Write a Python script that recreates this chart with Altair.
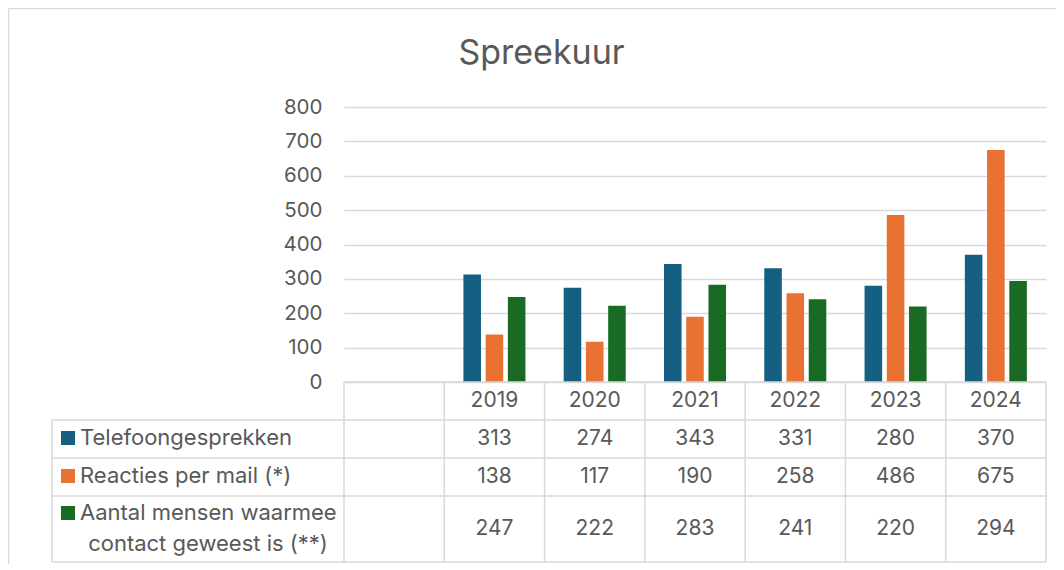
import altair as alt
import pandas as pd

# ---- data -----------------------------------------------------------------
years = ["2019", "2020", "2021", "2022", "2023", "2024"]
categories = [" "] + years  # first category column is empty in the source chart
series = ["Telefoongesprekken", "Reacties per mail (*)",
          "Aantal mensen waarmee contact geweest is (**)"]
series_label_lines = [["Telefoongesprekken"],
                      ["Reacties per mail (*)"],
                      ["Aantal mensen waarmee", "contact geweest is (**)"]]
telefoon = [313, 274, 343, 331, 280, 370]
mail = [138, 117, 190, 258, 486, 675]
contact = [247, 222, 283, 241, 220, 294]
y_ticks = [0, 100, 200, 300, 400, 500, 600, 700, 800]
title_text = "Spreekuur"

colors = ["#156082", "#E97132", "#196B24"]
TXT = "#595959"
GRID = "#d9d9d9"
FONT = "Inter"

values_by_series = [telefoon, mail, contact]
rows = []
for s, vals in zip(series, values_by_series):
    for y, v in zip(years, vals):
        rows.append({"year": y, "series": s, "value": v})
df = pd.DataFrame(rows)

# ---- layout constants (pixels, relative to plot area) ----------------------
W, H = 702, 275
table_lines_y = [H, 313, 351, 389, 455]
row_center_y = [332, 370, 422]
label_line_y = [[331], [369], [406, 437]]
header_y = 294
label_left = -292

xscale = alt.Scale(domain=categories, paddingInner=0, paddingOuter=0)
yscale = alt.Scale(domain=[0, 800])
cscale = alt.Scale(domain=series, range=colors)

bars = alt.Chart(df).mark_bar().encode(
    x=alt.X("year:N", scale=xscale, axis=None, sort=categories),
    xOffset=alt.XOffset("series:N", scale=alt.Scale(domain=series, paddingInner=0.21, paddingOuter=0.86)),
    y=alt.Y("value:Q", scale=yscale, title=None,
            axis=alt.Axis(values=y_ticks, domain=False, ticks=False, labelPadding=22,
                          gridColor=GRID, gridWidth=1.5, labelFontSize=20.5,
                          labelColor=TXT, labelFont=FONT)),
    color=alt.Color("series:N", scale=cscale, legend=None),
)

title = alt.Chart(pd.DataFrame({"t": [title_text]})).mark_text(
    fontSize=34, font=FONT, color=TXT, baseline="alphabetic", align="center"
).encode(text="t:N", x=alt.value(197.5), y=alt.value(-43))

cat_df = pd.DataFrame({"year": categories})
vrules = alt.Chart(cat_df).mark_rule(color=GRID, strokeWidth=1.5).encode(
    x=alt.X("year:N", scale=xscale, bandPosition=0, sort=categories),
    y=alt.value(H), y2=alt.value(455))
right_rule = alt.Chart(cat_df.head(1)).mark_rule(color=GRID, strokeWidth=1.5).encode(
    x=alt.value(W), y=alt.value(H), y2=alt.value(455))
left_rule = alt.Chart(cat_df.head(1)).mark_rule(color=GRID, strokeWidth=1.5).encode(
    x=alt.value(label_left), y=alt.value(313), y2=alt.value(455))
hrules = [alt.Chart(cat_df.head(1)).mark_rule(color=GRID, strokeWidth=1.5).encode(
    x=alt.value(0 if i == 0 else label_left), x2=alt.value(W), y=alt.value(yy))
    for i, yy in enumerate(table_lines_y)]
border_top = alt.Chart(cat_df.head(1)).mark_rule(color=GRID, strokeWidth=1.5).encode(
    x=alt.value(-335.5), x2=alt.value(W + 12), y=alt.value(-98.5))
border_left = alt.Chart(cat_df.head(1)).mark_rule(color=GRID, strokeWidth=1.5).encode(
    x=alt.value(-335.5), y=alt.value(-98.5), y2=alt.value(460))

header = alt.Chart(pd.DataFrame({"year": years})).mark_text(
    fontSize=21, font=FONT, color=TXT, baseline="middle").encode(
    x=alt.X("year:N", scale=xscale, sort=categories), y=alt.value(header_y), text="year:N")

layers = [bars, title, border_top, border_left, vrules, right_rule, left_rule] + hrules + [header]

for i, s in enumerate(series):
    sub = df[df.series == s]
    layers.append(alt.Chart(sub).mark_text(
        fontSize=21, font=FONT, color=TXT, baseline="middle").encode(
        x=alt.X("year:N", scale=xscale, sort=categories), y=alt.value(row_center_y[i]),
        text="value:Q"))
    layers.append(alt.Chart(pd.DataFrame({"series": [s]})).mark_square(size=196, opacity=1).encode(
        x=alt.value(-276), y=alt.value(label_line_y[i][0]),
        color=alt.Color("series:N", scale=cscale, legend=None)))
    lines = series_label_lines[i]
    for j, line in enumerate(lines):
        if j == 0:
            mk = dict(align="left")
            xv = -264
        else:
            mk = dict(align="center")
            xv = -136
        layers.append(alt.Chart(pd.DataFrame({"t": [line]})).mark_text(
            fontSize=22, font=FONT, color=TXT, baseline="middle", **mk).encode(
            x=alt.value(xv), y=alt.value(label_line_y[i][j]), text="t:N"))

chart = alt.layer(*layers).properties(
    width=W, height=H,
    autosize=alt.AutoSizeParams(type="none"),
    padding={"left": 336, "top": 99, "right": 10, "bottom": 182},
).configure_view(stroke=None)

chart.save("out.html", embed_options={"renderer": "svg", "actions": False})
